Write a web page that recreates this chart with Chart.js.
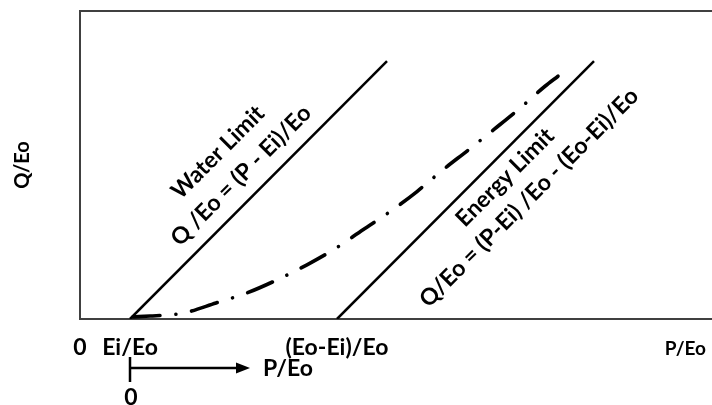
<!DOCTYPE html>
<html>
<head>
<meta charset="utf-8">
<script src="https://cdn.jsdelivr.net/npm/chart.js@4.4.1/dist/chart.umd.min.js"></script>
<style>
html,body{margin:0;padding:0;background:#fff;}
#wrap{width:712px;height:405px;position:relative;}
canvas{display:block;}
</style>
</head>
<body>
<div id="wrap"><canvas id="c" width="712" height="405"></canvas></div>
<script>
// ---- data (chart units: Ei/Eo = 1) ----
const waterX = [1, 6.14];
const waterY = [0, 5.14];
const energyX = [5.14, 10.28];
const energyY = [0, 5.14];
const curveX = [1.06, 1.40, 1.76, 2.08, 2.72, 3.34, 3.94, 4.54, 5.10, 5.66, 6.20, 6.74, 7.24, 7.78, 8.28, 8.82, 9.30, 9.56];
const curveY = [0.04, 0.06, 0.08, 0.12, 0.32, 0.52, 0.78, 1.08, 1.40, 1.78, 2.14, 2.54, 2.96, 3.38, 3.78, 4.22, 4.64, 4.84];
const xTickValues = [0, 1, 5.14];
const xTickLabels = ['0', 'Ei/Eo', '(Eo-Ei)/Eo'];
const xMax = 12.64;
const yMax = 6.14;

const pts = (xs, ys) => xs.map((x, i) => ({x: x, y: ys[i]}));
const FONT = 'Lato';

const annot = {
  id: 'annot',
  afterDraw(chart) {
    const ctx = chart.ctx;
    const xs = chart.scales.x, ys = chart.scales.y;
    const ca = chart.chartArea;
    ctx.save();
    ctx.fillStyle = '#000';
    ctx.textAlign = 'center';
    ctx.textBaseline = 'middle';
    const rot = (txt, x, y, size) => {
      ctx.save();
      ctx.translate(xs.getPixelForValue(x), ys.getPixelForValue(y));
      ctx.rotate(-Math.PI / 4);
      ctx.font = 'bold ' + size + 'px ' + FONT;
      ctx.fillText(txt, 0, 0);
      ctx.restore();
    };
    rot('Water Limit', 2.76, 3.32, 23);
    rot('Q /Eo = (P - Ei)/Eo', 3.22, 2.86, 23);
    rot('Energy Limit', 8.5, 2.82, 23);
    rot('Q/Eo = (P-Ei) /Eo - (Eo-Ei)/Eo', 8.98, 2.42, 23);

    // P/Eo at bottom right
    ctx.font = 'bold 19px ' + FONT;
    ctx.textAlign = 'right';
    ctx.fillText('P/Eo', ca.right - 6, ca.bottom + 30);

    // arrow under Ei/Eo
    const x0 = xs.getPixelForValue(1);
    const yArr = ca.bottom + 49;
    ctx.strokeStyle = '#000';
    ctx.lineWidth = 2.5;
    ctx.beginPath();
    ctx.moveTo(x0, yArr - 11);
    ctx.lineTo(x0, yArr + 14);
    ctx.moveTo(x0, yArr);
    ctx.lineTo(x0 + 110, yArr);
    ctx.stroke();
    ctx.beginPath();
    ctx.moveTo(x0 + 120, yArr);
    ctx.lineTo(x0 + 106, yArr - 5.5);
    ctx.lineTo(x0 + 106, yArr + 5.5);
    ctx.closePath();
    ctx.fill();
    ctx.font = 'bold 23px ' + FONT;
    ctx.textAlign = 'left';
    ctx.fillText('P/Eo', x0 + 133, yArr + 1);
    ctx.textAlign = 'center';
    ctx.fillText('0', x0 + 1, yArr + 30);
    ctx.restore();
  }
};

new Chart(document.getElementById('c'), {
  type: 'scatter',
  data: {
    datasets: [
      {data: pts(waterX, waterY), showLine: true, borderColor: '#000', borderWidth: 2.5, pointRadius: 0, fill: false},
      {data: pts(energyX, energyY), showLine: true, borderColor: '#000', borderWidth: 2.5, pointRadius: 0, fill: false},
      {data: pts(curveX, curveY), showLine: true, borderColor: '#000', borderWidth: 3.6, pointRadius: 0, fill: false,
       cubicInterpolationMode: 'monotone', borderCapStyle: 'round', borderDash: [27, 16, 0.01, 16]}
    ]
  },
  options: {
    responsive: false,
    animation: false,
    devicePixelRatio: 1,
    layout: {padding: {left: 0, right: 0, top: 11, bottom: 0}},
    plugins: {legend: {display: false}, tooltip: {enabled: false}},
    scales: {
      x: {
        type: 'linear', min: 0, max: xMax, position: 'bottom',
        grid: {display: false},
        border: {display: true, color: '#404040', width: 2},
        afterBuildTicks: (axis) => { axis.ticks = xTickValues.map(v => ({value: v})); },
        ticks: {
          autoSkip: false, maxRotation: 0, padding: 7, color: '#000',
          font: {family: FONT, weight: 'bold', size: 23},
          callback: (v, i) => xTickLabels[i]
        },
        afterFit: (s) => { s.height = 86; }
      },
      x2: {
        type: 'linear', min: 0, max: xMax, position: 'top',
        grid: {display: false},
        border: {display: true, color: '#404040', width: 2},
        ticks: {display: false},
        afterFit: (s) => { s.height = 0; }
      },
      y: {
        type: 'linear', min: 0, max: yMax,
        grid: {display: false},
        border: {display: true, color: '#404040', width: 2},
        ticks: {display: false},
        title: {display: true, text: 'Q/Eo', color: '#000', font: {family: FONT, weight: 'bold', size: 20}, padding: {top: 11, bottom: 0}},
        afterFit: (s) => { s.width = 80; }
      }
    }
  },
  plugins: [annot]
});
</script>
</body>
</html>
